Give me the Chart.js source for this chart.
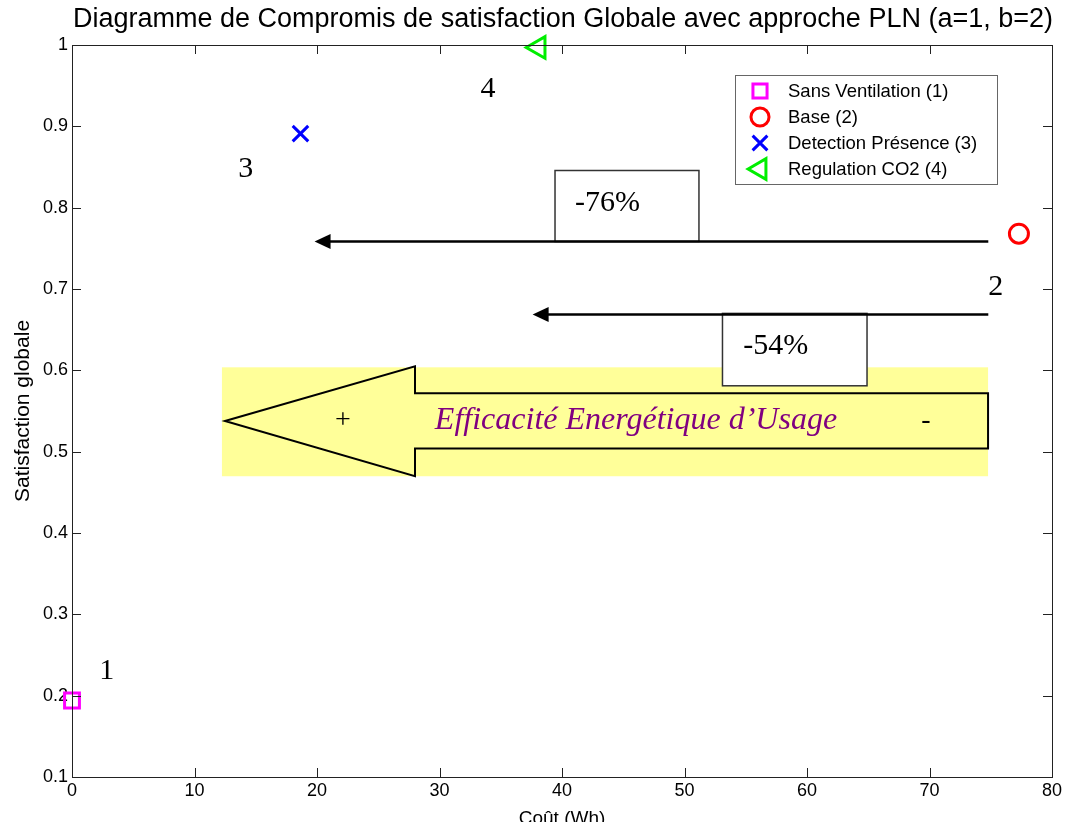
<!DOCTYPE html>
<html><head><meta charset="utf-8">
<script src="https://cdn.jsdelivr.net/npm/chart.js@4.4.0/dist/chart.umd.min.js"></script>
<style>html,body{margin:0;padding:0;background:#fff;}#wrap{width:1068px;height:822px;}</style>
</head><body><div id="wrap"><canvas id="c" width="1068" height="822"></canvas></div>
<script>
// ---- data ----
const seriesLabels = ['Sans Ventilation (1)', 'Base (2)', 'Detection Présence (3)', 'Regulation CO2 (4)'];
const costWh = [0, 77.3, 18.65, 38.1];
const satisfaction = [0.194, 0.768, 0.891, 0.997];
const pointNumbers = ['1', '2', '3', '4'];
const xTickValues = [0, 10, 20, 30, 40, 50, 60, 70, 80];
const yTickValues = [0.1, 0.2, 0.3, 0.4, 0.5, 0.6, 0.7, 0.8, 0.9, 1];
const yTickLabels = ['0.1', '0.2', '0.3', '0.4', '0.5', '0.6', '0.7', '0.8', '0.9', '1'];
const titleText = 'Diagramme de Compromis de satisfaction Globale avec approche PLN (a=1, b=2)';
const xTitle = 'Coût (Wh)';
const yTitle = 'Satisfaction globale';
const reductionLabels = ['-76%', '-54%'];
const bandText = 'Efficacité Energétique d\u2019Usage';

// ---- styles ----
const markerStyles = [
  { pointStyle: 'rect', color: '#ff00ff', radius: 10.5, rotation: 0 },
  { pointStyle: 'circle', color: '#ff0000', radius: 9.5, rotation: 0 },
  { pointStyle: 'crossRot', color: '#0000ff', radius: 11, rotation: 0 },
  { pointStyle: 'triangle', color: '#00ee00', radius: 12.5, rotation: -90 }
];
// annotation geometry in data units
const numberPos = [[2.83, 0.233], [75.41, 0.705], [14.18, 0.85], [33.96, 0.948]];
const arrowsGeom = [
  { x0: 74.8, x1: 19.8, y: 0.7584 },
  { x0: 74.8, x1: 37.6, y: 0.6688 }
];
const boxesGeom = [
  { x0: 39.43, x1: 51.18, y0: 0.8457, y1: 0.7584, tx: 41.06, ty: 0.808 },
  { x0: 53.1, x1: 64.9, y0: 0.670, y1: 0.581, tx: 54.8, ty: 0.632 }
];
const bandGeom = { x0: 12.24, x1: 74.78, y0: 0.6037, y1: 0.4698 };
const bigArrow = { tipX: 12.49, tipY: 0.5377, headX: 28.0, headTop: 0.6049, headBot: 0.4698, shaftTop: 0.5717, shaftBot: 0.5038, endX: 74.78 };

const SANS = '"Liberation Sans", Arial, sans-serif';
const SERIF = '"Liberation Serif", "Times New Roman", serif';

const annot = {
  id: 'annot',
  beforeDatasetsDraw(chart) {
    const ctx = chart.ctx, sx = chart.scales.x, sy = chart.scales.y;
    const X = v => sx.getPixelForValue(v), Y = v => sy.getPixelForValue(v);
    ctx.save();
    // yellow band
    ctx.fillStyle = '#ffff99';
    ctx.fillRect(X(bandGeom.x0), Y(bandGeom.y0), X(bandGeom.x1) - X(bandGeom.x0), Y(bandGeom.y1) - Y(bandGeom.y0));
    // big arrow
    const b = bigArrow;
    ctx.beginPath();
    ctx.moveTo(X(b.tipX), Y(b.tipY));
    ctx.lineTo(X(b.headX), Y(b.headTop));
    ctx.lineTo(X(b.headX), Y(b.shaftTop));
    ctx.lineTo(X(b.endX), Y(b.shaftTop));
    ctx.lineTo(X(b.endX), Y(b.shaftBot));
    ctx.lineTo(X(b.headX), Y(b.shaftBot));
    ctx.lineTo(X(b.headX), Y(b.headBot));
    ctx.closePath();
    ctx.fillStyle = '#ffff99';
    ctx.fill();
    ctx.lineWidth = 2;
    ctx.strokeStyle = '#000';
    ctx.lineJoin = 'miter';
    ctx.stroke();
    // band texts
    ctx.fillStyle = '#000';
    ctx.font = '28px ' + SERIF;
    ctx.textAlign = 'center';
    ctx.textBaseline = 'middle';
    ctx.fillText('+', X(22.12), Y(0.5377));
    ctx.fillText('-', X(69.7), Y(0.5377));
    ctx.fillStyle = '#800080';
    ctx.font = 'italic 32px ' + SERIF;
    ctx.textBaseline = 'alphabetic';
    ctx.fillText(bandText, X(46.04), Y(0.5275));
    // boxes
    boxesGeom.forEach((g, i) => {
      const x0 = X(g.x0), x1 = X(g.x1), y0 = Y(g.y0), y1 = Y(g.y1);
      ctx.fillStyle = '#fff';
      ctx.fillRect(x0, y0, x1 - x0, y1 - y0);
      ctx.strokeStyle = '#333';
      ctx.lineWidth = 1.5;
      ctx.strokeRect(x0, y0, x1 - x0, y1 - y0);
      ctx.fillStyle = '#000';
      ctx.font = '30px ' + SERIF;
      ctx.textAlign = 'left';
      ctx.textBaseline = 'middle';
      ctx.fillText(reductionLabels[i], X(g.tx), Y(g.ty) + 2);
    });
    // arrows
    arrowsGeom.forEach(a => {
      const x0 = X(a.x0), x1 = X(a.x1), y = Y(a.y);
      ctx.strokeStyle = '#000';
      ctx.lineWidth = 2.5;
      ctx.beginPath();
      ctx.moveTo(x0, y);
      ctx.lineTo(x1 + 14, y);
      ctx.stroke();
      ctx.fillStyle = '#000';
      ctx.beginPath();
      ctx.moveTo(x1, y);
      ctx.lineTo(x1 + 16, y - 7.5);
      ctx.lineTo(x1 + 16, y + 7.5);
      ctx.closePath();
      ctx.fill();
    });
    // point numbers
    ctx.fillStyle = '#000';
    ctx.font = '30px ' + SERIF;
    ctx.textAlign = 'center';
    ctx.textBaseline = 'middle';
    pointNumbers.forEach((n, i) => ctx.fillText(n, X(numberPos[i][0]), Y(numberPos[i][1]) + 2));
    ctx.restore();
  },
  afterDraw(chart) {
    const ctx = chart.ctx, a = chart.chartArea, sx = chart.scales.x, sy = chart.scales.y;
    ctx.save();
    // box
    ctx.strokeStyle = '#222';
    ctx.lineWidth = 1;
    ctx.strokeRect(a.left + 0.5, a.top + 0.5, a.right - a.left, a.bottom - a.top);
    // inward ticks
    ctx.beginPath();
    const tl = 9;
    sx.ticks.forEach(t => {
      const x = Math.round(sx.getPixelForValue(t.value)) + 0.5;
      ctx.moveTo(x, a.bottom); ctx.lineTo(x, a.bottom - tl);
      ctx.moveTo(x, a.top); ctx.lineTo(x, a.top + tl);
    });
    sy.ticks.forEach(t => {
      const y = Math.round(sy.getPixelForValue(t.value)) + 0.5;
      ctx.moveTo(a.left, y); ctx.lineTo(a.left + tl, y);
      ctx.moveTo(a.right, y); ctx.lineTo(a.right - tl, y);
    });
    ctx.stroke();
    // title
    ctx.fillStyle = '#000';
    ctx.font = '27px ' + SANS;
    ctx.textAlign = 'center';
    ctx.textBaseline = 'middle';
    ctx.fillText(titleText, (a.left + a.right) / 2 + 1, 20);
    // x title
    ctx.font = '19px ' + SANS;
    ctx.fillText(xTitle, (a.left + a.right) / 2, a.bottom + 42);
    // y title
    ctx.save();
    ctx.translate(23, (a.top + a.bottom) / 2);
    ctx.rotate(-Math.PI / 2);
    ctx.font = '21px ' + SANS;
    ctx.fillText(yTitle, 0, 0);
    ctx.restore();
    // legend
    const lx = 735, ly = 75, lw = 262, lh = 109;
    ctx.fillStyle = '#fff';
    ctx.fillRect(lx, ly, lw, lh);
    ctx.strokeStyle = '#666';
    ctx.lineWidth = 1;
    ctx.strokeRect(lx + 0.5, ly + 0.5, lw, lh);
    seriesLabels.forEach((lab, i) => {
      const cy = ly + 16 + i * 26, m = markerStyles[i];
      ctx.strokeStyle = m.color;
      ctx.fillStyle = 'rgba(0,0,0,0)';
      ctx.lineWidth = 3;
      Chart.helpers.drawPoint(ctx, { pointStyle: m.pointStyle, radius: m.radius * 0.95, rotation: m.rotation, borderWidth: 3 }, 760, cy);
      ctx.fillStyle = '#000';
      ctx.font = '18.5px ' + SANS;
      ctx.textAlign = 'left';
      ctx.textBaseline = 'middle';
      ctx.fillText(lab, 788, cy + 1);
    });
    ctx.restore();
  }
};

new Chart(document.getElementById('c'), {
  type: 'scatter',
  data: {
    datasets: seriesLabels.map((lab, i) => ({
      label: lab,
      data: [{ x: costWh[i], y: satisfaction[i] }],
      clip: false,
      pointStyle: markerStyles[i].pointStyle,
      pointRadius: markerStyles[i].radius,
      pointRotation: markerStyles[i].rotation,
      pointBorderColor: markerStyles[i].color,
      pointBackgroundColor: 'rgba(0,0,0,0)',
      pointBorderWidth: 3,
      pointHoverRadius: markerStyles[i].radius
    }))
  },
  options: {
    responsive: false,
    animation: false,
    devicePixelRatio: 1,
    layout: { padding: { top: 45, right: 16, left: 0, bottom: 0 } },
    plugins: { legend: { display: false }, title: { display: false }, tooltip: { enabled: false } },
    scales: {
      x: {
        type: 'linear', min: 0, max: 80,
        afterBuildTicks: s => { s.ticks = xTickValues.map(v => ({ value: v })); },
        afterFit: s => { s.height = 45; },
        grid: { display: false, drawTicks: false },
        border: { display: false },
        ticks: { color: '#000', font: { family: SANS, size: 18 }, padding: 3, maxRotation: 0, autoSkip: false }
      },
      y: {
        type: 'linear', min: 0.1, max: 1,
        afterBuildTicks: s => { s.ticks = yTickValues.map(v => ({ value: v })); },
        afterFit: s => { s.width = 72; },
        grid: { display: false, drawTicks: false },
        border: { display: false },
        ticks: { color: '#000', font: { family: SANS, size: 18 }, padding: 4, autoSkip: false,
          callback: (v, idx) => yTickLabels[idx] }
      }
    }
  },
  plugins: [annot]
});
</script></body></html>
